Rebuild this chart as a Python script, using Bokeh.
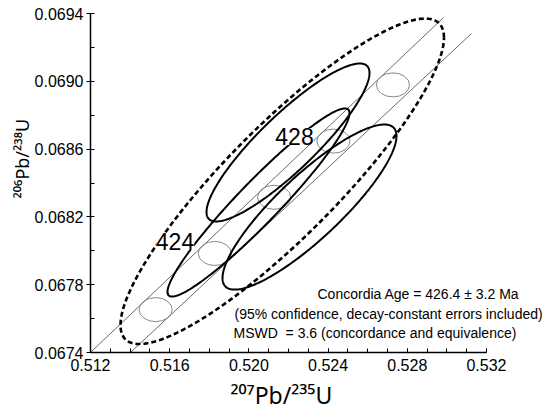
import numpy as np
from bokeh.plotting import figure
from bokeh.models import Range1d, FixedTicker, PrintfTickFormatter, Label, Title
from bokeh.embed import file_html
from bokeh.resources import INLINE

# ---------------- data ----------------
# concordia band (decay-constant error envelope), two thin lines
band_upper_x = [0.51150, 0.529828]
band_upper_y = [0.067345, 0.069376]
band_lower_x = [0.51350, 0.531242]
band_lower_y = [0.067343, 0.069282]

# age markers on the concordia (Ma)
marker_ages = [422, 424, 426, 428, 430]
marker_x = [0.515290, 0.518277, 0.521271, 0.524270, 0.527276]
marker_y = [0.0676530, 0.0679843, 0.0683157, 0.0686472, 0.0689788]
marker_w = 0.00167
marker_h = 0.000142
labelled_ages = ["424", "428"]

# analysis error ellipses: centre, half-extents, correlation
ell_x = [0.520485, 0.521975, 0.523061]
ell_y = [0.068285, 0.068639, 0.068258]
ell_ex = [0.004596, 0.004116, 0.004394]
ell_ey = [0.000555, 0.000466, 0.000487]
ell_rho = [0.95, 0.88, 0.86]

# concordia-age ellipse (dashed)
cage_x = 0.521684
cage_y = 0.068410
cage_ex = 0.008169
cage_ey = 0.000960
cage_rho = 0.883

x_major = [0.512, 0.516, 0.520, 0.524, 0.528, 0.532]
x_minor = [0.512, 0.513, 0.514, 0.515, 0.516, 0.517, 0.518, 0.519, 0.520, 0.521,
           0.522, 0.523, 0.524, 0.525, 0.526, 0.527, 0.528, 0.529, 0.530, 0.531, 0.532]
y_major = [0.0674, 0.0678, 0.0682, 0.0686, 0.0690, 0.0694]
y_minor = [0.0674, 0.0676, 0.0678, 0.0680, 0.0682, 0.0684, 0.0686, 0.0688,
           0.0690, 0.0692, 0.0694]

x_title = "\u00b2\u2070\u2077Pb/\u00b2\u00b3\u2075U"
y_title = "\u00b2\u2070\u2076Pb/\u00b2\u00b3\u2078U"

info_lines = ["Concordia Age = 426.4 \u00b1 3.2 Ma",
              "(95% confidence, decay-constant errors included)",
              "MSWD \u00a0= 3.6 (concordance and equivalence)"]

# ---------------- figure ----------------
X0, X1 = 0.512, 0.532          # axis extent
Y0, Y1 = 0.0674, 0.0694
W, H = 547, 414
FL, FT, FH = 90, 13, 339       # frame position in canvas px
PX = (X1 - X0) / 396.0         # data units per px along x
X1_frame = X0 + (W - FL) * PX  # frame reaches the right edge (room for text)

p = figure(width=W, height=H,
           min_border_left=FL, min_border_right=0,
           min_border_top=FT, min_border_bottom=H - FT - FH,
           x_range=Range1d(X0, X1_frame), y_range=Range1d(Y0, Y1),
           output_backend="svg", toolbar_location=None,
           background_fill_color="white", border_fill_color="white")
p.outline_line_color = None
p.grid.visible = False

FONT = "Liberation Sans"
TFONT = "Noto Sans"

def cx(px):   # canvas px -> data x
    return X0 + (px - FL) * PX

def cy(py):   # canvas px -> data y
    return Y0 + (FT + FH - py) / FH * (Y1 - Y0)

# axes
p.xaxis.bounds = (X0, X1)
p.xaxis.ticker = FixedTicker(ticks=x_major, minor_ticks=x_minor)
p.yaxis.ticker = FixedTicker(ticks=y_major, minor_ticks=y_minor)
p.xaxis.formatter = PrintfTickFormatter(format="%.3f")
p.yaxis.formatter = PrintfTickFormatter(format="%.4f")
for ax in (p.xaxis, p.yaxis):
    ax.axis_line_color = "black"
    ax.axis_line_width = 1.5
    ax.major_tick_line_color = "black"
    ax.minor_tick_line_color = "black"
    ax.major_tick_line_width = 1
    ax.minor_tick_line_width = 1
    ax.major_label_text_font = FONT
    ax.major_label_text_font_size = "16px"
    ax.major_label_text_color = "black"
p.xaxis.major_tick_in = 4
p.xaxis.major_tick_out = 0
p.xaxis.minor_tick_in = 4
p.xaxis.minor_tick_out = 0
p.xaxis.major_label_standoff = 6
p.yaxis.major_tick_in = 0
p.yaxis.major_tick_out = 4
p.yaxis.minor_tick_in = 4
p.yaxis.minor_tick_out = 0
p.yaxis.major_label_standoff = 3

# axis titles
p.add_layout(Title(text=x_title, align="left", offset=140,
                   text_font=TFONT, text_font_size="23px",
                   text_font_style="normal", text_color="black",
                   standoff=6), "below")
p.add_layout(Title(text=y_title, align="left", offset=154,
                   text_font=TFONT, text_font_size="18px",
                   text_font_style="normal", text_color="black",
                   standoff=-4), "left")

# concordia band
p.line(band_upper_x, band_upper_y, line_color="#444444", line_width=0.8)
p.line(band_lower_x, band_lower_y, line_color="#444444", line_width=0.8)

# age markers
p.ellipse(x=marker_x, y=marker_y, width=marker_w, height=marker_h,
          fill_color=None, line_color="#888888", line_width=1)

theta = np.linspace(0, 2 * np.pi, 241)

def outline(x, y, ex, ey, rho):
    s = np.sqrt(1 - rho ** 2)
    return (x + ex * np.cos(theta),
            y + ey * (rho * np.cos(theta) + s * np.sin(theta)))

# dashed concordia-age ellipse
dx, dy = outline(cage_x, cage_y, cage_ex, cage_ey, cage_rho)
p.line(dx, dy, line_color="black", line_width=2.6, line_dash="5 3")

# data ellipses
for i in range(len(ell_x)):
    ex_, ey_ = outline(ell_x[i], ell_y[i], ell_ex[i], ell_ey[i], ell_rho[i])
    p.line(ex_, ey_, line_color="black", line_width=2)

# age labels (white background)
age_pos = {"424": (174.5, 241), "428": (294, 136)}
for a in labelled_ages:
    px, py = age_pos[a]
    p.add_layout(Label(x=cx(px), y=cy(py), text=a, text_font=FONT,
                       text_font_size="23px", text_align="center",
                       text_baseline="middle", text_color="black",
                       background_fill_color="white"))

# info text
info_pos = [(317, 293), (234, 313), (233, 332)]
for t, (px, py) in zip(info_lines, info_pos):
    p.add_layout(Label(x=cx(px), y=cy(py), text=t, text_font=FONT,
                       text_font_size="14px", text_align="left",
                       text_baseline="middle", text_color="black"))

open("out.html", "w").write(file_html(p, INLINE))
